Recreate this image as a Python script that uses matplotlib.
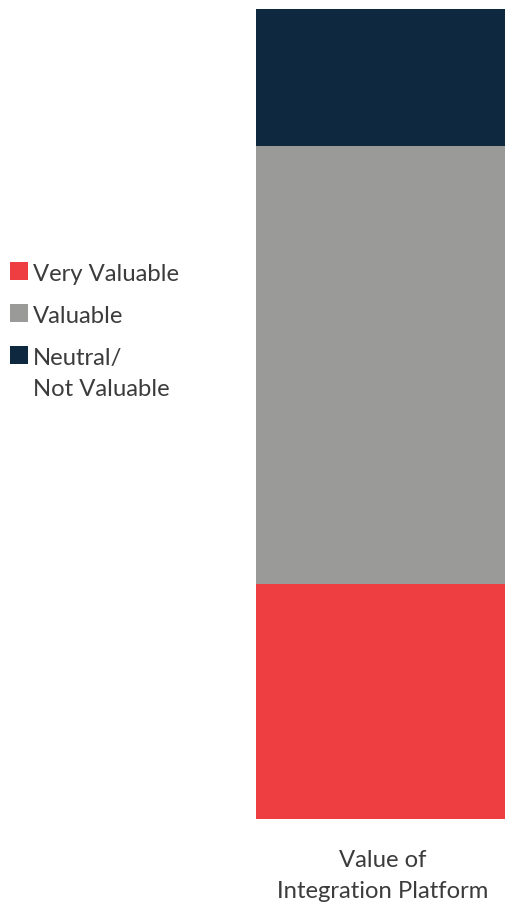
import matplotlib
matplotlib.use("Agg")
import matplotlib.pyplot as plt
from matplotlib.patches import Rectangle

plt.rcParams['font.family'] = ['Lato', 'DejaVu Sans']

# Stacked shares (%) for one column, bottom to top
categories = ["Very Valuable", "Valuable", "Neutral/\nNot Valuable"]
values = [29, 54, 17]
colors = ["#ef3e42", "#9a9a98", "#0e2840"]
column_label = "Value of\nIntegration Platform"

W, H = 506, 903
fig = plt.figure(figsize=(W / 100, H / 100), dpi=100)

# Bar axes in pixel-based figure coordinates
left, right, top, bottom = 256, 506, 9.5, 819.5
ax = fig.add_axes([left / W, (H - bottom) / H, (right - left) / W, (bottom - top) / H])
base = 0
for v, c in zip(values, colors):
    ax.bar([0], [v], bottom=base, width=1.0, color=c, edgecolor="none")
    base += v
ax.set_xlim(-0.5, 0.5)
ax.set_ylim(0, sum(values))
ax.axis("off")

text_color = "#3c3c3c"
font = dict(fontsize=17.2, fontweight="normal", color=text_color)
line_gap = 31.5


def draw_lines(x, y_base, text, ha):
    """Draw each line of a multi-line string with a fixed baseline gap (px)."""
    for i, line in enumerate(text.split("\n")):
        fig.text(x / W, 1 - (y_base + i * line_gap) / H, line,
                 ha=ha, va="baseline", **font)


draw_lines(383, 867, column_label, "center")

# Legend, drawn top to bottom (first-line baselines in px)
baselines = [281, 323, 365]
for cat, c, yb in zip(categories, colors, baselines):
    fig.patches.append(Rectangle((10 / W, 1 - yb / H), 18 / W, 18 / H,
                                 transform=fig.transFigure, facecolor=c,
                                 edgecolor="none"))
    draw_lines(33, yb, cat, "left")

fig.savefig("out.png", dpi=100)
